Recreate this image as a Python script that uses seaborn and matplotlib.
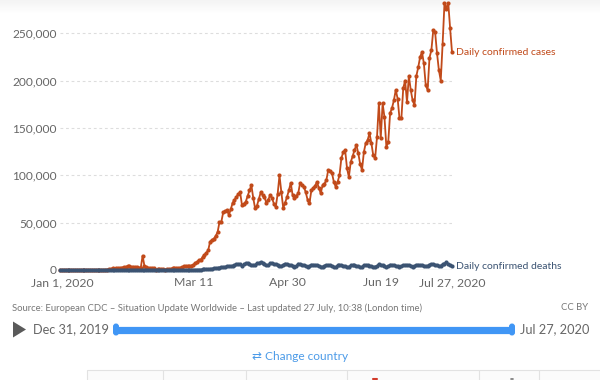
import numpy as np
import pandas as pd
import matplotlib
matplotlib.use("Agg")
import matplotlib.pyplot as plt
import seaborn as sns
from matplotlib.patches import Polygon, Rectangle, FancyBboxPatch

# ---------------- data ----------------
start_date = "2019-12-31"

cases = [
    27, 0, 0, 17, 0, 15, 0, 0, 0, 0,
    0, 0, 1, 0, 1, 0, 1, 4, 17, 136,
    20, 153, 142, 97, 266, 453, 673, 797, 1767, 1480,
    1757, 1986, 2102, 2604, 2834, 3239, 3911, 3723, 3184, 3479,
    2658, 3063, 2538, 2091, 15100, 4000, 2644, 2009, 2051, 1891,
    1753, 409, 1000, 1000, 700, 600, 500, 700, 900, 1200,
    1700, 1900, 1800, 2100, 2300, 2700, 3800, 3900, 4000, 4100,
    4600, 5500, 7000, 8500, 10500, 11000, 13500, 16000, 18000, 21000,
    30000, 31600, 33000, 36000, 40000, 50600, 51000, 61000, 62000, 63000,
    58000, 64000, 70700, 74000, 77000, 80000, 82000, 68500, 70000, 72000,
    78000, 84000, 89600, 76000, 65000, 68000, 75000, 82000, 79000, 77000,
    70700, 74000, 79000, 76000, 70000, 66500, 80000, 100000, 82000, 65400,
    71000, 77000, 84000, 92000, 79000, 76000, 78000, 81000, 92000, 89600,
    88000, 82000, 74000, 70700, 84000, 86500, 89000, 93000, 86500, 81000,
    89600, 91000, 95000, 105500, 104000, 102000, 93000, 87600, 93000, 100000,
    118000, 124500, 126600, 107600, 98000, 114000, 120000, 126600, 132000, 123500,
    112000, 105500, 124500, 134000, 137000, 144500, 134000, 121000, 118000, 140000,
    176000, 139000, 176000, 161000, 130000, 135000, 165600, 171000, 179000, 190000,
    181000, 160000, 160000, 192000, 200000, 177000, 205000, 190000, 179000, 174000,
    205000, 214000, 225000, 230000, 218000, 195000, 190000, 224000, 232000, 253000,
    251000, 229000, 211000, 200000, 239000, 282000, 276000, 282000, 255000, 230000,
]

deaths = [
    0, 0, 0, 0, 0, 0, 0, 0, 0, 0,
    0, 1, 0, 0, 0, 0, 0, 0, 1, 3,
    0, 3, 8, 16, 14, 26, 25, 26, 38, 43,
    46, 45, 46, 57, 64, 66, 73, 73, 86, 89,
    97, 108, 97, 146, 242, 145, 143, 142, 106, 98,
    139, 116, 119, 110, 98, 155, 79, 63, 38, 57,
    60, 67, 73, 63, 78, 93, 107, 104, 99, 233,
    203, 275, 330, 346, 411, 396, 623, 690, 778, 1040,
    1200, 1560, 1670, 1820, 2340, 2440, 2760, 3260, 3460, 3700,
    3700, 4060, 4600, 5070, 5860, 5990, 5810, 4590, 5900, 7120,
    7100, 6400, 5300, 5400, 5600, 7300, 7000, 8600, 7200, 6200,
    5100, 5200, 7000, 7400, 6500, 6200, 5800, 4600, 4100, 5600,
    6800, 6400, 5600, 5400, 4500, 3600, 4200, 6700, 6200, 5800,
    5300, 4200, 3600, 3800, 5700, 5600, 5400, 5300, 4400, 3600,
    3400, 4600, 5400, 5200, 5100, 4200, 3100, 3200, 5000, 5000,
    5100, 4600, 4300, 3100, 3600, 4800, 5000, 5000, 4600, 3900,
    3300, 3400, 5400, 5200, 5100, 4500, 4200, 3400, 3600, 4400,
    6400, 5300, 5000, 4300, 3400, 3700, 5700, 5400, 5200, 4500,
    4200, 3600, 3900, 5100, 5400, 5500, 5100, 4600, 3600, 3800,
    5500, 5600, 5300, 5100, 4700, 3800, 4100, 5800, 5900, 6300,
    5600, 5300, 4300, 4600, 6200, 6800, 8000, 6000, 5500, 4000,
]

y_ticks = [0, 50000, 100000, 150000, 200000, 250000]
x_tick_dates = ["2020-01-01", "2020-03-11", "2020-04-30", "2020-06-19", "2020-07-27"]
x_tick_labels = ["Jan 1, 2020", "Mar 11", "Apr 30", "Jun 19", "Jul 27, 2020"]
series_names = ["cases", "deaths"]
series_labels = ["Daily confirmed cases", "Daily confirmed deaths"]
source_text = "Source: European CDC – Situation Update Worldwide – Last updated 27 July, 10:38 (London time)"
license_text = "CC BY"
slider_labels = ["Dec 31, 2019", "Jul 27, 2020"]
link_text = "⇄ Change country"

# ---------------- build ----------------
dates = pd.date_range(start_date, periods=len(cases), freq="D")
df = pd.DataFrame({"date": dates, "cases": cases, "deaths": deaths})
long = df.melt("date", var_name="series", value_name="value")

sns.set_style("white")
plt.rcParams["font.family"] = ["Lato", "DejaVu Sans"]

W, H = 600, 380
fig = plt.figure(figsize=(W / 100, H / 100), dpi=100)

# overlay in pixel coordinates for the page furniture
ov = fig.add_axes([0, 0, 1, 1], zorder=0)
ov.set_xlim(0, W)
ov.set_ylim(H, 0)
ov.axis("off")

ax = fig.add_axes([60.1 / W, 1 - 270 / H, 391.9 / W, 270 / H], zorder=1)
ax.patch.set_alpha(0)

palette = {"cases": "#C14A1A", "deaths": "#3B5372"}
sns.lineplot(data=long, x="date", y="value", hue="series", hue_order=series_names,
             palette=palette, marker="o", markersize=3.0, markeredgewidth=0,
             linewidth=1.3, legend=False, ax=ax)
for ln in ax.lines:
    ln.set_clip_on(False)
    ln.set_zorder(3)

ax.set_xlim(dates[0], dates[-1])
ax.set_ylim(0, 285000)
ax.set_xlabel("")
ax.set_ylabel("")
for s in ax.spines.values():
    s.set_visible(False)

ax.set_yticks(y_ticks)
ax.set_yticklabels([f"{v:,}" for v in y_ticks])
ax.tick_params(axis="y", length=0, pad=2.5, labelsize=8.6, labelcolor="#666666")
ax.yaxis.grid(True, linestyle=(0, (2.5, 2.5)), color="#dddddd", linewidth=0.8)
ax.set_axisbelow(True)
ax.axhline(0, color="#c8c8c8", linewidth=0.9, zorder=1)

ax.set_xticks(pd.to_datetime(x_tick_dates))
ax.set_xticklabels(x_tick_labels)
ax.tick_params(axis="x", length=3.5, width=0.8, color="#cccccc", pad=1.5,
               labelsize=8.8, labelcolor="#666666")

for name, label in zip(series_names, series_labels):
    ax.annotate(label, xy=(dates[-1], df[name].iloc[-1]), xytext=(3, 0),
                textcoords="offset points", va="center", ha="left",
                fontsize=7.5, color=palette[name], annotation_clip=False)

# top faint gradient
grad = np.linspace(0.955, 1.0, 50).reshape(-1, 1)
ov.imshow(grad, extent=(0, W, 14, 0), cmap="gray", vmin=0, vmax=1, aspect="auto", zorder=0)

# source line
ov.text(12, 308, source_text, fontsize=6.8, color="#777777", va="center", ha="left")
ov.text(588, 308, license_text, fontsize=6.8, color="#777777", va="center", ha="right")

# slider
ov.add_patch(Polygon([[13, 321.5], [13, 337.5], [26, 329.5]], closed=True,
                     facecolor="#5a5a5a", edgecolor="none"))
ov.text(33, 329.5, slider_labels[0], fontsize=9.2, color="#666666", va="center", ha="left")
ov.plot([116, 512], [329.5, 329.5], color="#4096F5", linewidth=5.2, solid_capstyle="butt")
for hx in (116, 512):
    ov.add_patch(FancyBboxPatch((hx - 3, 323.5), 6, 12,
                                boxstyle="round,pad=0,rounding_size=3",
                                facecolor="#4096F5", edgecolor="none"))
ov.text(520, 329.5, slider_labels[1], fontsize=9.2, color="#666666", va="center", ha="left")

# change country link
ov.text(300, 357, link_text, fontsize=8.6, color="#4C9BE8", va="center", ha="center",
        family=["Lato", "DejaVu Sans"])

# table fragment
ov.add_patch(Rectangle((87, 370), 520, 20, facecolor="#fbfbfb", edgecolor="#e2e2e2", linewidth=0.8))
for vx in (163, 246, 347, 479, 539):
    ov.plot([vx, vx], [370, 380], color="#e2e2e2", linewidth=0.8)
ov.plot([373, 377], [378.5, 378.5], color="#d23a2a", linewidth=1.5)
ov.plot([511, 513], [378.5, 378.5], color="#777777", linewidth=1.2)

fig.savefig("out.png", dpi=100)
